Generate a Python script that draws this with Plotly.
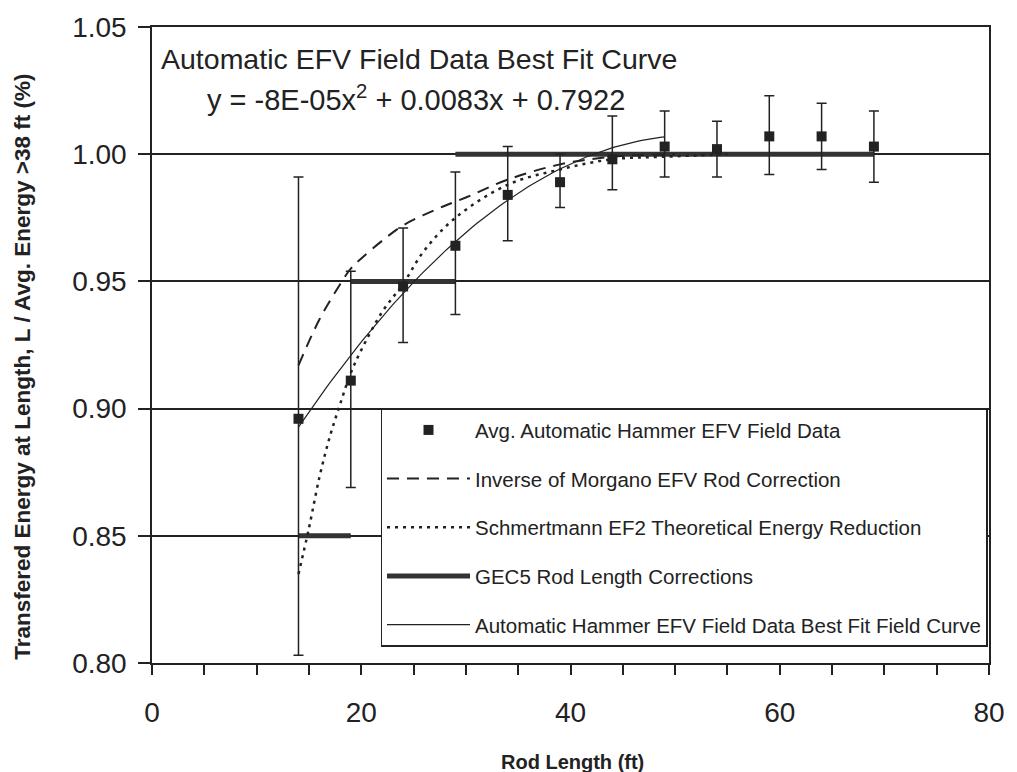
import plotly.graph_objects as go

# Average automatic-hammer EFV field data with asymmetric error bars
rod_length = [14, 19, 24, 29, 34, 39, 44, 49, 54, 59, 64, 69]
energy_ratio = [0.896, 0.911, 0.948, 0.964, 0.984, 0.989, 0.998, 1.003, 1.002, 1.007, 1.007, 1.003]
err_upper = [0.991, 0.954, 0.971, 0.993, 1.003, 1.000, 1.015, 1.017, 1.013, 1.023, 1.020, 1.017]
err_lower = [0.803, 0.869, 0.926, 0.937, 0.966, 0.979, 0.986, 0.991, 0.991, 0.992, 0.994, 0.989]

# Inverse of Morgano EFV rod correction
morgano_x = [14, 16, 18, 19, 20, 22, 24, 27, 30, 34, 39, 44, 50]
morgano_y = [0.917, 0.935, 0.949, 0.955, 0.959, 0.966, 0.972, 0.978, 0.983, 0.990, 0.996, 0.999, 1.000]

# Schmertmann EF2 theoretical energy reduction
schm_x = [14, 15, 16, 17, 18, 19, 20, 22, 24, 26, 29, 34, 39, 44, 49, 55]
schm_y = [0.835, 0.853, 0.873, 0.889, 0.902, 0.914, 0.923, 0.938, 0.949, 0.962, 0.975, 0.988, 0.994, 0.998, 0.999, 1.000]

# GEC5 rod length correction steps
gec5_start = [14, 19, 29]
gec5_end = [19, 29, 69]
gec5_value = [0.85, 0.95, 1.00]

# Best-fit quadratic (a*x^2 + b*x + c) and its plotted range
fit_coef = [-8e-05, 0.0083, 0.7922]
fit_range = [14, 49]

y_ticks = [0.80, 0.85, 0.90, 0.95, 1.00, 1.05]
x_ticks = [0, 20, 40, 60, 80]

FONT = "Liberation Sans, Arial, sans-serif"

err_plus = [u - v for u, v in zip(err_upper, energy_ratio)]
err_minus = [v - l for v, l in zip(energy_ratio, err_lower)]

gec5_x, gec5_y = [], []
for s, e, v in zip(gec5_start, gec5_end, gec5_value):
    gec5_x += [s, e, None]
    gec5_y += [v, v, None]

n_fit = 80
fit_x = [fit_range[0] + (fit_range[1] - fit_range[0]) * i / n_fit for i in range(n_fit + 1)]
fit_y = [fit_coef[0] * x * x + fit_coef[1] * x + fit_coef[2] for x in fit_x]

fig = go.Figure()

fig.add_trace(go.Scatter(
    x=gec5_x, y=gec5_y, mode="lines", name="GEC5 Rod Length Corrections",
    line=dict(color="#333333", width=5), legendrank=4, legendgroup="d",
))
fig.add_trace(go.Scatter(
    x=morgano_x, y=morgano_y, mode="lines", name="Inverse of Morgano EFV Rod Correction",
    line=dict(color="#222222", width=2, dash="12px,8px", shape="spline"), legendrank=2, legendgroup="b",
))
fig.add_trace(go.Scatter(
    x=schm_x, y=schm_y, mode="lines", name="Schmertmann EF2 Theoretical Energy Reduction",
    line=dict(color="#222222", width=2.5, dash="3px,5px", shape="spline"), legendrank=3, legendgroup="c",
))
fig.add_trace(go.Scatter(
    x=fit_x, y=fit_y, mode="lines", name="Automatic Hammer EFV Field Data Best Fit Field Curve",
    line=dict(color="#222222", width=1.2), legendrank=5, legendgroup="e",
))
fig.add_trace(go.Scatter(
    x=rod_length, y=energy_ratio, mode="markers", name="Avg. Automatic Hammer EFV Field Data",
    marker=dict(symbol="square", size=10, color="#222222"),
    error_y=dict(type="data", symmetric=False, array=err_plus, arrayminus=err_minus,
                 color="#222222", thickness=1.5, width=5),
    legendrank=1, legendgroup="a",
))

fig.add_annotation(
    x=0.008, y=1.05, xref="paper", yref="y", xanchor="left", yanchor="top", yshift=-14,
    text="Automatic EFV Field Data Best Fit Curve", showarrow=False,
    font=dict(family=FONT, size=28.5, color="#222222"),
)
fig.add_annotation(
    x=0.063, y=1.05, xref="paper", yref="y", xanchor="left", yanchor="top", yshift=-51,
    text="y = -8E-05x<sup>2</sup> + 0.0083x + 0.7922", showarrow=False,
    font=dict(family=FONT, size=29, color="#222222"),
)
fig.add_annotation(
    x=-0.154, y=0.466, xref="paper", yref="paper", xanchor="center", yanchor="middle",
    text="<b>Transfered Energy at Length, L / Avg. Energy >38 ft (%)</b>", textangle=-90,
    showarrow=False, font=dict(family=FONT, size=22.5, color="#222222"),
)
fig.add_annotation(
    x=0.502, y=-0.155, xref="paper", yref="paper", xanchor="center", yanchor="middle",
    text="<b>Rod Length (ft)</b>", showarrow=False,
    font=dict(family=FONT, size=20, color="#222222"),
)

fig.update_layout(
    width=1017, height=772,
    margin=dict(l=152, r=22, t=23, b=109),
    paper_bgcolor="white", plot_bgcolor="white",
    font=dict(family=FONT, color="#222222"),
    showlegend=True,
    legend=dict(
        x=0.273, y=0.4, xanchor="left", yanchor="top",
        bgcolor="white", bordercolor="#222222", borderwidth=1.5,
        font=dict(family=FONT, size=20.5, color="#222222"),
        tracegroupgap=19, traceorder="grouped", itemwidth=83,
    ),
    xaxis=dict(
        range=[0, 80], tickvals=x_ticks, ticks="outside", ticklen=10, tickwidth=1.5,
        tickcolor="#222222", showline=True, linecolor="#222222", linewidth=1.5, mirror=True,
        showgrid=False, zeroline=False, tickfont=dict(family=FONT, size=28, color="#222222"),
        ticklabelstandoff=14,
        minor=dict(dtick=5, ticks="outside", ticklen=10, tickwidth=1.5, tickcolor="#222222", showgrid=False),
    ),
    yaxis=dict(
        range=[0.80, 1.05], tickvals=y_ticks, tickformat=".2f", ticks="outside", ticklen=12,
        tickwidth=1.5, tickcolor="#222222", showline=True, linecolor="#222222", linewidth=1.5,
        mirror=True, showgrid=True, gridcolor="#222222", gridwidth=1.5, zeroline=False,
        tickfont=dict(family=FONT, size=28, color="#222222"), ticklabelstandoff=6,
    ),
)

fig.write_html("out.html")
